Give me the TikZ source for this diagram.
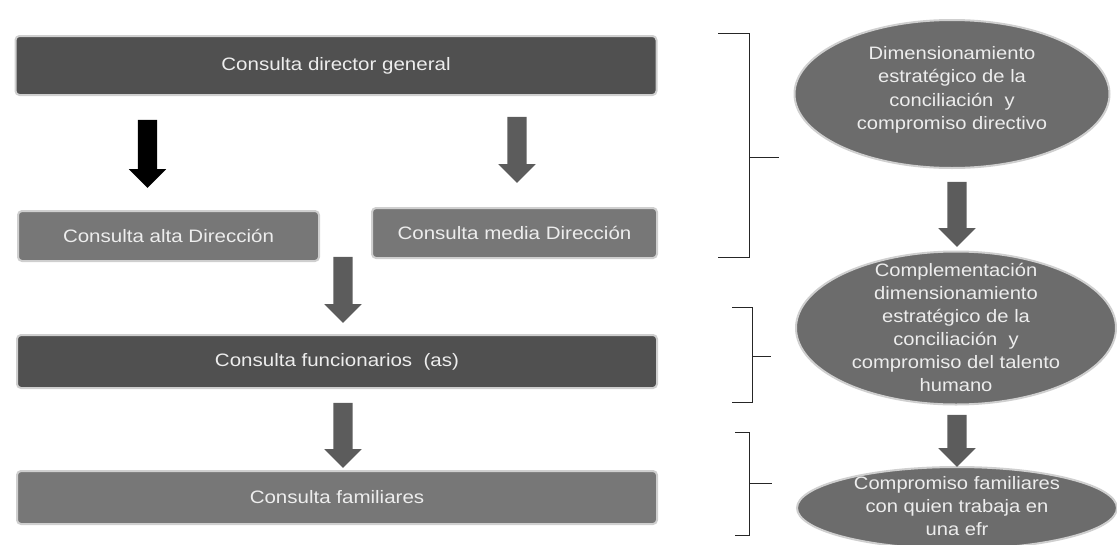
\documentclass[tikz,border=0pt]{standalone}
\usepackage{fontspec}
\setmainfont{Liberation Sans}
\newfontfamily\boxfont[FakeStretch=1.14]{Liberation Sans}
\newfontfamily\ellfont[FakeStretch=1.12]{Liberation Sans}
\usetikzlibrary{shapes.geometric,shapes.arrows}
\definecolor{darkbox}{HTML}{505050}
\definecolor{midbox}{HTML}{777777}
\definecolor{ellfill}{HTML}{6C6C6C}
\definecolor{halo}{HTML}{CFCFCF}
\definecolor{txt}{HTML}{EDEDED}
\definecolor{arrgray}{HTML}{5C5C5C}
\tikzset{
  box/.style={rectangle, rounded corners=4pt, draw=halo, line width=2pt, inner sep=0pt,
    text=txt, font=\boxfont\fontsize{18}{21}\selectfont},
  darkb/.style={box, fill=darkbox},
  midb/.style={box, fill=midbox},
  ell/.style={ellipse, draw=halo, line width=2pt, fill=ellfill, inner sep=0pt},
  elltext/.style={text=txt, align=center, font=\ellfont\fontsize{18}{23}\selectfont, inner sep=0pt},
  blockarrow/.style={single arrow, shape border rotate=270, inner sep=9.5pt,
    single arrow head extend=9pt, single arrow head indent=0pt, fill=arrgray},
  bracket/.style={draw=black!85, line width=1pt}
}
\begin{document}
\begin{tikzpicture}[x=1pt,y=-1pt]
\useasboundingbox (0,0) rectangle (1117,544);
% left boxes
\node[darkb, minimum width=641pt, minimum height=59pt] (dg) at (336,65.5) {Consulta director general};
\node[midb, minimum width=301pt, minimum height=50pt] (alta) at (168.5,236) {Consulta alta Dirección};
\node[midb, minimum width=285pt, minimum height=50pt] (media) at (514.5,233) {Consulta media Dirección};
\node[darkb, minimum width=640pt, minimum height=53pt] (func) at (337,361.5) {Consulta funcionarios\ \ (as)};
\node[midb, minimum width=640pt, minimum height=53pt] (fam) at (337,497.5) {Consulta familiares};
% left arrows
\node[blockarrow, fill=black, minimum height=68pt] (a1) at (147.5,149) {};
\node[blockarrow, minimum height=66pt] (a2) at (517,145) {};
\node[blockarrow, minimum height=66pt] (a3) at (343,285) {};
\node[blockarrow, minimum height=65pt] (a4) at (343,430.5) {};
% ellipses
\node[ell, minimum width=315pt, minimum height=148pt] (e1) at (952,94) {};
\node[elltext, font=\ellfont\fontsize{18}{23.5}\selectfont] (t1) at (952,90) {Dimensionamiento\\estratégico de la\\conciliación\ \ y\\compromiso directivo};
\node[ell, minimum width=320pt, minimum height=153pt] (e2) at (956,328) {};
\node[elltext] (t2) at (956,327) {Complementación\\dimensionamiento\\estratégico de la\\conciliación\ \ y\\compromiso del talento\\humano};
\node[ell, minimum width=320pt, minimum height=82pt] (e3) at (957,508) {};
\node[elltext] (t3) at (957,506) {Compromiso familiares\\con quien trabaja en\\una efr};
% right arrows
\node[blockarrow, minimum height=65pt] (a5) at (957,209.5) {};
\node[blockarrow, minimum height=52pt] (a6) at (957,436) {};
% brackets
\draw[bracket] (718,33) -- (749,33) -- (749,257) -- (718,257);
\draw[bracket] (749,157) -- (779,157);
\draw[bracket] (732,307) -- (752,307) -- (752,402) -- (732,402);
\draw[bracket] (752,356) -- (771,356);
\draw[bracket] (735,432) -- (749,432) -- (749,535) -- (735,535);
\draw[bracket] (749,483) -- (772,483);
\end{tikzpicture}
\end{document}
